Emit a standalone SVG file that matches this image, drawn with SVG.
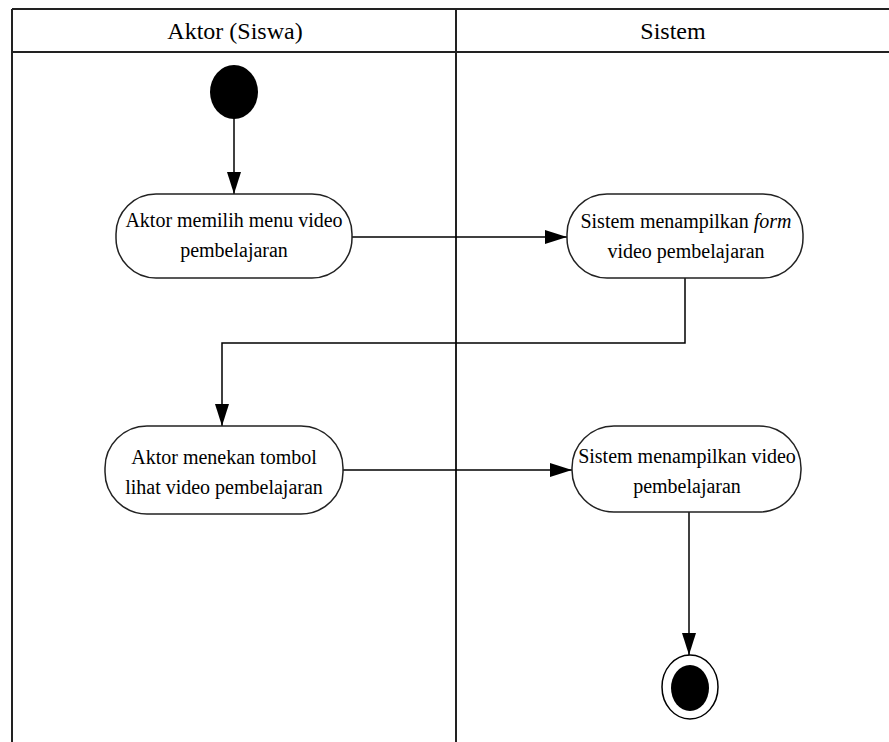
<svg xmlns="http://www.w3.org/2000/svg" width="889" height="742" viewBox="0 0 889 742">
<defs>
<marker id="arr" markerWidth="22" markerHeight="14" refX="22" refY="7" orient="auto" markerUnits="userSpaceOnUse">
<path d="M0,0 L22,7 L0,14 Z" fill="#000"/>
</marker>
<style>
.lane{stroke:#222;stroke-width:2;fill:none}
.node{fill:#fff;stroke:#222;stroke-width:1.5}
.t{font-family:'Liberation Serif','DejaVu Serif',serif;font-size:20px;fill:#000;text-anchor:middle}
.h{font-family:'Liberation Serif','DejaVu Serif',serif;font-size:24px;fill:#000;text-anchor:middle}
.e{stroke:#000;stroke-width:1.5;fill:none}
</style>
</defs>
<rect width="889" height="742" fill="#fff"/>
<g id="lanes">
<line class="lane" x1="12" y1="9" x2="889" y2="9"/>
<line class="lane" x1="12" y1="52" x2="889" y2="52"/>
<line class="lane" x1="12" y1="9" x2="12" y2="742"/>
<line class="lane" x1="456" y1="9" x2="456" y2="742"/>
<text class="h" x="235" y="39">Aktor (Siswa)</text>
<text class="h" x="673" y="39">Sistem</text>
</g>
<g id="connectors">
<line class="e" x1="234" y1="118" x2="234" y2="194" marker-end="url(#arr)"/>
<line class="e" x1="352" y1="237" x2="567" y2="237" marker-end="url(#arr)"/>
<polyline class="e" points="685,277 685,343 222,343 222,426" marker-end="url(#arr)"/>
<line class="e" x1="343" y1="470" x2="572" y2="470" marker-end="url(#arr)"/>
<line class="e" x1="689" y1="512" x2="689" y2="655" marker-end="url(#arr)"/>
</g>
<g id="start">
<ellipse cx="234" cy="92" rx="24" ry="27" fill="#000"/>
</g>
<g id="n1">
<rect class="node" x="116" y="194" width="236" height="84" rx="40" ry="40"/>
<text class="t" x="234" y="227">Aktor memilih menu video</text>
<text class="t" x="234" y="257">pembelajaran</text>
</g>
<g id="n2">
<rect class="node" x="567" y="194" width="236" height="84" rx="40" ry="40"/>
<text class="t" x="686" y="228">Sistem menampilkan <tspan font-style="italic">form</tspan></text>
<text class="t" x="686" y="258">video pembelajaran</text>
</g>
<g id="n3">
<rect class="node" x="105" y="426" width="238" height="88" rx="42" ry="42"/>
<text class="t" x="224" y="464">Aktor menekan tombol</text>
<text class="t" x="224" y="494">lihat video pembelajaran</text>
</g>
<g id="n4">
<rect class="node" x="572" y="426" width="229" height="86" rx="42" ry="42"/>
<text class="t" x="687" y="463">Sistem menampilkan video</text>
<text class="t" x="687" y="493">pembelajaran</text>
</g>
<g id="end">
<ellipse cx="690" cy="687" rx="28" ry="32" fill="#fff" stroke="#000" stroke-width="1.5"/>
<ellipse cx="690" cy="688" rx="19" ry="23" fill="#000"/>
</g>
</svg>
